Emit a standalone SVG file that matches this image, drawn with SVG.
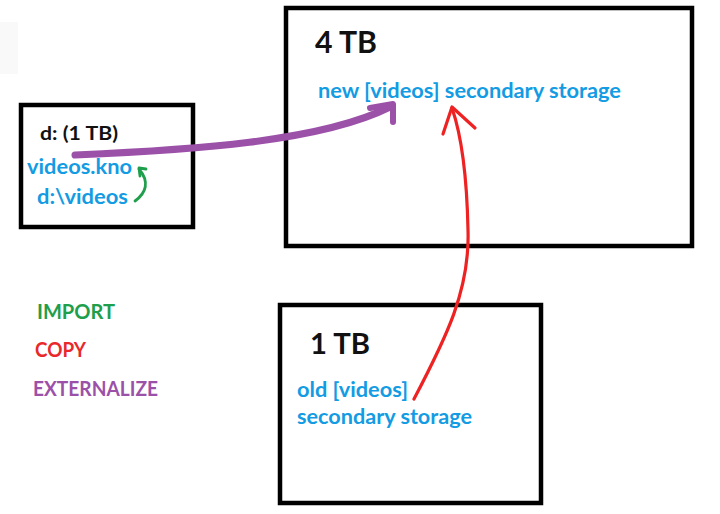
<svg xmlns="http://www.w3.org/2000/svg" width="720" height="514" viewBox="0 0 720 514">
<style>
.box{fill:#fff;stroke:#000;stroke-width:4.5}
text{font-family:Lato,"Open Sans","Liberation Sans",sans-serif;font-weight:bold}
.k{fill:#111}
.b{fill:#139be3}
.ar{fill:none;stroke-linecap:round;stroke-linejoin:round}
</style>
<rect width="720" height="514" fill="#fff"/>
<rect x="0" y="22" width="18" height="52" fill="#f9f9f9"/>
<g id="drive-d">
<rect class="box" x="21" y="105" width="172" height="122"/>
<text class="k" x="40" y="140" font-size="19" textLength="78" lengthAdjust="spacingAndGlyphs">d: (1 TB)</text>
<text class="b" x="27" y="174" font-size="20" textLength="105" lengthAdjust="spacingAndGlyphs">videos.kno</text>
<text class="b" x="37" y="204" font-size="20" textLength="91" lengthAdjust="spacingAndGlyphs">d:\videos</text>
</g>
<g id="storage-4tb">
<rect class="box" x="286" y="8" width="406" height="238"/>
<text class="k" x="315" y="53" font-size="30" textLength="62" lengthAdjust="spacingAndGlyphs">4 TB</text>
<text class="b" x="318" y="98" font-size="21" textLength="303" lengthAdjust="spacingAndGlyphs">new [videos] secondary storage</text>
</g>
<g id="storage-1tb">
<rect class="box" x="280" y="305" width="261" height="198"/>
<text class="k" x="310" y="354" font-size="29" textLength="60" lengthAdjust="spacingAndGlyphs">1 TB</text>
<text class="b" x="297" y="397" font-size="21" textLength="111" lengthAdjust="spacingAndGlyphs">old [videos]</text>
<text class="b" x="297" y="424" font-size="21" textLength="175" lengthAdjust="spacingAndGlyphs">secondary storage</text>
</g>
<g id="legend">
<text x="37" y="319" font-size="20" fill="#1f9e4c" textLength="78" lengthAdjust="spacingAndGlyphs">IMPORT</text>
<text x="35" y="357" font-size="20" fill="#e8282b" textLength="51" lengthAdjust="spacingAndGlyphs">COPY</text>
<text x="33" y="396" font-size="20" fill="#9c51a9" textLength="125" lengthAdjust="spacingAndGlyphs">EXTERNALIZE</text>
</g>
<g id="connectors">
<g stroke="#9c51a9" class="ar">
<path d="M75,155 C190,150 320,142 390,107" stroke-width="7"/>
<path d="M370,108 L393,104 L393,122" stroke-width="6"/>
</g>
<g stroke="#ee2222" class="ar" stroke-width="3.2">
<path d="M414,399 C446,338 470,290 468,230 C467,180 463,140 452,108"/>
<path d="M443,134 L452,107 L475,128"/>
</g>
<g stroke="#1f9e4c" class="ar" stroke-width="2.8">
<path d="M135,201 C146,193 150,182 139,169"/>
<path d="M146,169 L139,168 L140,176"/>
</g>
</g>
</svg>
